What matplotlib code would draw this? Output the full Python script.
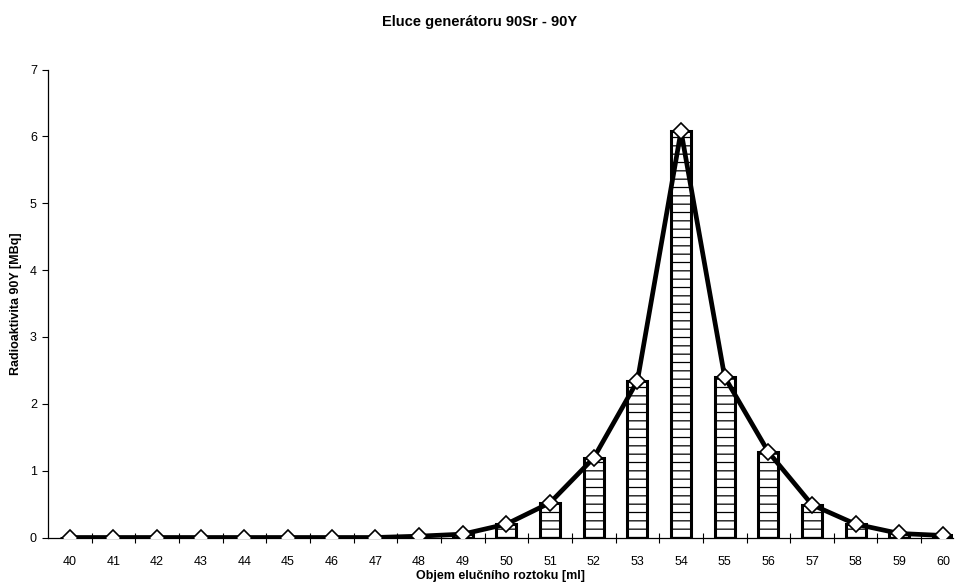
import matplotlib
matplotlib.use("Agg")
import matplotlib.pyplot as plt

plt.rcParams['font.family'] = ['Liberation Sans', 'DejaVu Sans']
plt.rcParams['hatch.linewidth'] = 0.9

volumes = [40, 41, 42, 43, 44, 45, 46, 47, 48, 49, 50,
           51, 52, 53, 54, 55, 56, 57, 58, 59, 60]
activity = [0.0, 0.0, 0.0, 0.0, 0.0, 0.0, 0.0, 0.0, 0.02, 0.05, 0.20,
            0.52, 1.19, 2.34, 6.08, 2.40, 1.28, 0.49, 0.20, 0.06, 0.03]
y_ticks = [0, 1, 2, 3, 4, 5, 6, 7]

W, H = 960, 588
fig = plt.figure(figsize=(W / 100, H / 100), dpi=100)
x0, x1, y0, y1 = 48, 953, 537.5, 69.5
ax = fig.add_axes([x0 / W, 1 - y0 / H, (x1 - x0) / W, (y0 - y1) / H])

pos = list(range(len(volumes)))
ax.bar(pos, activity, width=0.46, color='white', edgecolor='black',
       linewidth=2.2, hatch='--', zorder=2)
ax.plot(pos, activity, color='black', linewidth=3.4, zorder=3,
        marker='D', markersize=8.5, markerfacecolor='white',
        markeredgecolor='black', markeredgewidth=1.2)

ax.set_xlim(-0.5, 20.23)
ax.set_ylim(0, 7)
ax.set_yticks(y_ticks)
ax.set_xticks(pos)
ax.set_xticklabels([str(v) for v in volumes])
ax.set_xticks([p + 0.5 for p in pos[:-1]], minor=True)
ax.tick_params(axis='x', which='major', length=0, labelsize=9, pad=13)
ax.tick_params(axis='x', which='minor', length=7, direction='inout', width=0.8)
ax.tick_params(axis='y', length=4, direction='out', width=0.8, labelsize=9, pad=4)

for side in ('top', 'right'):
    ax.spines[side].set_visible(False)
for side in ('left', 'bottom'):
    ax.spines[side].set_linewidth(0.9)

ax.set_xlabel('Objem elučního roztoku [ml]', fontsize=9, fontweight='bold')
ax.xaxis.set_label_coords(0.5, -(570 - y0) / (y0 - y1))
ax.set_ylabel('Radioaktivita 90Y [MBq]', fontsize=9, fontweight='bold', va='center')
ax.yaxis.set_label_coords((16 - x0) / (x1 - x0), 0.5)
fig.text(0.5, 1 - 26 / H, 'Eluce generátoru 90Sr - 90Y', ha='center', va='baseline',
         fontsize=10.5, fontweight='bold')

fig.savefig('out.png', dpi=100)
